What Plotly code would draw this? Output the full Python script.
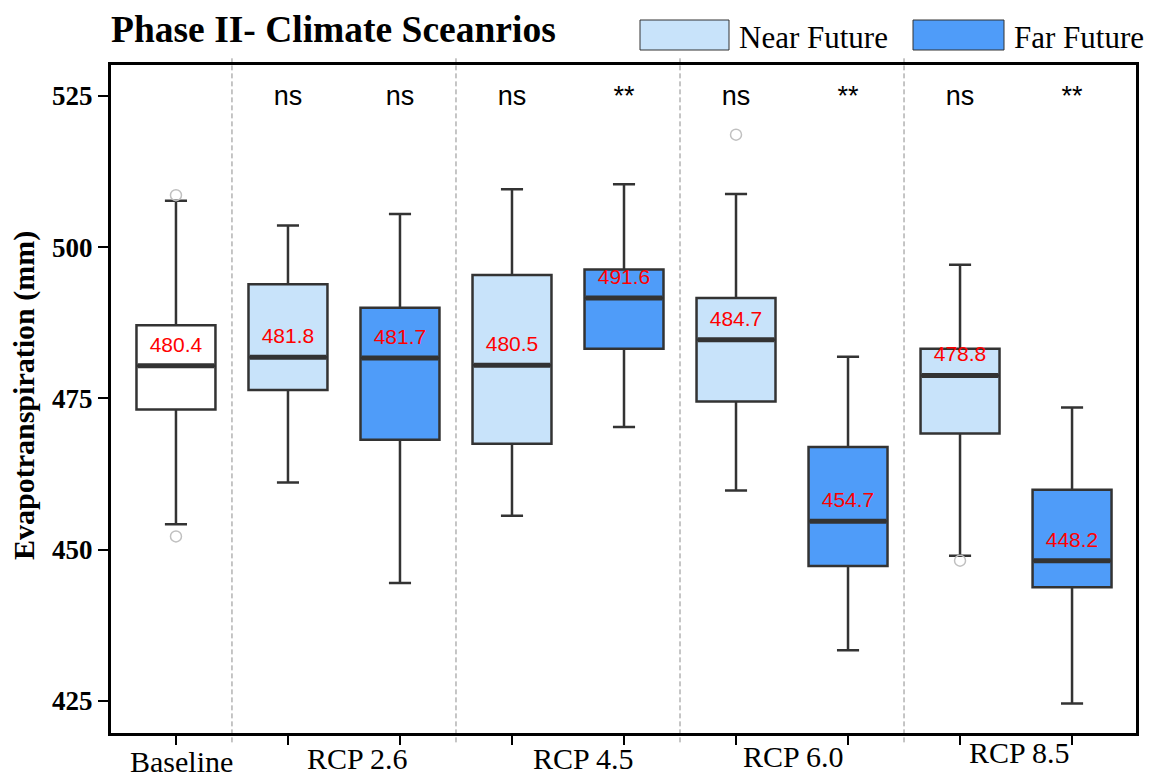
import plotly.graph_objects as go

# ---------------- data ----------------
box_names = ["Baseline", "RCP 2.6 NF", "RCP 2.6 FF", "RCP 4.5 NF", "RCP 4.5 FF",
             "RCP 6.0 NF", "RCP 6.0 FF", "RCP 8.5 NF", "RCP 8.5 FF"]
period = ["Baseline", "Near Future", "Far Future", "Near Future", "Far Future",
          "Near Future", "Far Future", "Near Future", "Far Future"]
lower_whisker = [454.2, 461.1, 444.5, 455.6, 470.3, 459.8, 433.4, 449.0, 424.6]
q1 = [473.2, 476.4, 468.2, 467.5, 483.2, 474.5, 447.3, 469.2, 443.8]
median = [480.4, 481.8, 481.7, 480.5, 491.6, 484.7, 454.7, 478.8, 448.2]
q3 = [487.1, 493.9, 490.0, 495.4, 496.3, 491.6, 467.0, 483.2, 459.9]
upper_whisker = [507.7, 503.6, 505.5, 509.6, 510.4, 508.8, 481.9, 497.1, 473.5]
outliers = [[508.6, 452.2], [], [], [], [], [518.6], [], [448.2], []]
significance = ["", "ns", "ns", "ns", "**", "ns", "**", "ns", "**"]

group_labels = ["Baseline", "RCP 2.6", "RCP 4.5", "RCP 6.0", "RCP 8.5"]
group_label_x = [1.045, 2.62, 4.64, 6.51, 8.53]
group_label_ypx = [761, 758, 758, 756, 753]
separators = [1.5, 3.5, 5.5, 7.5]
y_ticks = [425, 450, 475, 500, 525]

# ---------------- styles ----------------
fills = {"Baseline": "#ffffff", "Near Future": "#c8e3fa", "Far Future": "#4f9cf9"}
BOX_W = 0.705
SERIF = "Liberation Serif"
SANS = "Liberation Sans"
W, H = 1153, 780
L, R, T, B = 111, 1136, 65, 733


def pxx(x):
    return (x - L) / (R - L)


def pxy(y):
    return (B - y) / (B - T)


positions = list(range(1, len(box_names) + 1))

fig = go.Figure()
for i, name in enumerate(box_names):
    fig.add_trace(go.Box(
        x=[positions[i]], q1=[q1[i]], median=[median[i]], q3=[q3[i]],
        lowerfence=[lower_whisker[i]], upperfence=[upper_whisker[i]],
        name=name, boxpoints=False, width=BOX_W, whiskerwidth=0.28,
        fillcolor=fills[period[i]], line=dict(color="#333333", width=2.5),
        showlegend=False, hoverinfo="skip"))

# thick median lines
mx, my = [], []
for i in range(len(box_names)):
    mx += [positions[i] - BOX_W / 2 + 0.01, positions[i] + BOX_W / 2 - 0.01, None]
    my += [median[i], median[i], None]
fig.add_trace(go.Scatter(x=mx, y=my, mode="lines", line=dict(color="#333333", width=5),
                         showlegend=False, hoverinfo="skip"))

# outliers
ox, oy = [], []
for i, pts in enumerate(outliers):
    for p in pts:
        ox.append(positions[i])
        oy.append(p)
fig.add_trace(go.Scatter(x=ox, y=oy, mode="markers",
                         marker=dict(symbol="circle-open", size=11, color="#c0c0c0",
                                     line=dict(width=1.5, color="#c0c0c0")),
                         showlegend=False, hoverinfo="skip"))

# median value labels
fig.add_trace(go.Scatter(x=positions, y=[m + 3.2 for m in median], mode="text",
                         text=[f"{m:.1f}" for m in median], textposition="middle center",
                         textfont=dict(family=SANS, size=21, color="#ff0000"),
                         showlegend=False, hoverinfo="skip"))

# significance labels
fig.add_trace(go.Scatter(x=positions, y=[524.7] * len(positions), mode="text",
                         text=significance, textposition="middle center",
                         textfont=dict(family=SANS, size=27, color="black"),
                         showlegend=False, hoverinfo="skip"))

shapes = []
for s in separators:
    shapes.append(dict(type="line", xref="x", yref="paper", x0=s, x1=s, y0=-0.014, y1=1.01,
                       line=dict(color="#8c8c8c", width=1, dash="5px,3px"), layer="below"))

# legend boxes
shapes.append(dict(type="rect", xref="paper", yref="paper", x0=pxx(640), x1=pxx(729),
                   y0=pxy(50), y1=pxy(20), fillcolor=fills["Near Future"],
                   line=dict(color="#333333", width=1)))
shapes.append(dict(type="rect", xref="paper", yref="paper", x0=pxx(913), x1=pxx(1004),
                   y0=pxy(50), y1=pxy(20), fillcolor=fills["Far Future"],
                   line=dict(color="#333333", width=1)))

annotations = []
for lab, gx, gy in zip(group_labels, group_label_x, group_label_ypx):
    annotations.append(dict(x=gx, y=pxy(gy), xref="x", yref="paper", text=lab, showarrow=False,
                            xanchor="center", yanchor="middle",
                            font=dict(family=SERIF, size=30, color="black")))
annotations.append(dict(x=pxx(109), y=pxy(30), xref="paper", yref="paper",
                        text="<b>Phase II- Climate Sceanrios</b>", showarrow=False,
                        xanchor="left", yanchor="middle",
                        font=dict(family=SERIF, size=37.5, color="black")))
annotations.append(dict(x=pxx(737), y=pxy(37), xref="paper", yref="paper", text="Near Future",
                        showarrow=False, xanchor="left", yanchor="middle",
                        font=dict(family=SERIF, size=31, color="black")))
annotations.append(dict(x=pxx(1012), y=pxy(37), xref="paper", yref="paper", text="Far Future",
                        showarrow=False, xanchor="left", yanchor="middle",
                        font=dict(family=SERIF, size=31, color="black")))
annotations.append(dict(x=pxx(24), y=pxy(396), xref="paper", yref="paper",
                        text="<b>Evapotranspiration (mm)</b>", showarrow=False, textangle=-90,
                        xanchor="center", yanchor="middle",
                        font=dict(family=SERIF, size=30, color="black")))

fig.update_layout(
    width=W, height=H,
    margin=dict(l=L, r=W - R, t=T, b=H - B, pad=0),
    plot_bgcolor="white", paper_bgcolor="white",
    shapes=shapes, annotations=annotations, showlegend=False,
    xaxis=dict(range=[0.42, 9.571], showgrid=False, zeroline=False,
               tickvals=positions, ticktext=[""] * len(positions),
               ticks="outside", ticklen=9, tickwidth=2, tickcolor="black",
               showline=True, linecolor="black", linewidth=3, mirror=True),
    yaxis=dict(range=[419.71, 530.12], showgrid=False, zeroline=False,
               tickvals=y_ticks, ticktext=[f"<b>{v}</b>" for v in y_ticks],
               tickfont=dict(family=SERIF, size=27, color="black"),
               ticks="outside", ticklen=10, tickwidth=2, tickcolor="black",
               showline=True, linecolor="black", linewidth=3, mirror=True),
)

fig.write_html("out.html")
